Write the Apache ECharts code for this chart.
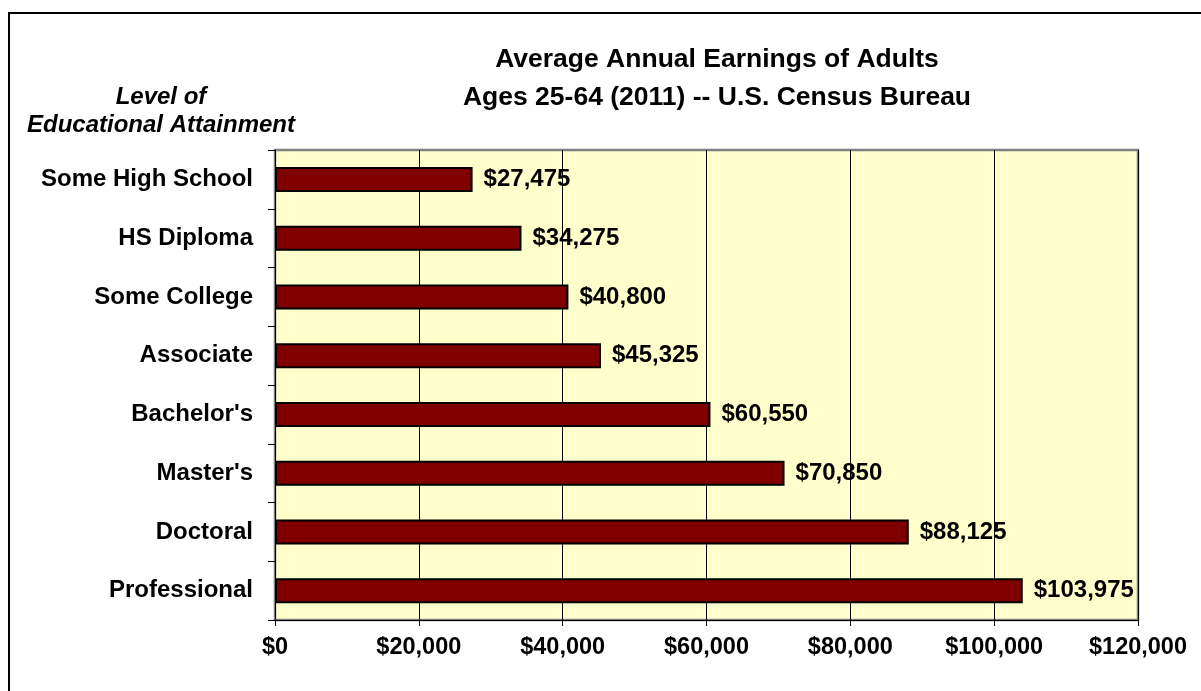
<!DOCTYPE html>
<html>
<head>
<meta charset="utf-8">
<script src="https://cdn.jsdelivr.net/npm/echarts@6/dist/echarts.min.js"></script>
<style>
html,body{margin:0;padding:0;background:#fff;}
#chart{width:1201px;height:691px;}
</style>
</head>
<body>
<div id="chart"></div>
<script>
const categories = ["Some High School","HS Diploma","Some College","Associate","Bachelor's","Master's","Doctoral","Professional"];
const earnings = [27475,34275,40800,45325,60550,70850,88125,103975];
const xTicks = [0,20000,40000,60000,80000,100000,120000];

const fmt = v => '$' + Number(v).toLocaleString('en-US');
const FONT = '"Liberation Sans", Arial, sans-serif';

const chart = echarts.init(document.getElementById('chart'));
chart.setOption({
  animation: false,
  backgroundColor: '#ffffff',
  title: {
    text: 'Average Annual Earnings of Adults\nAges 25-64 (2011) -- U.S. Census Bureau',
    left: 712, top: 36, textAlign: 'center',
    textStyle: {fontFamily: FONT, fontWeight: 'bold', fontSize: 26.5, color: '#000', lineHeight: 38}
  },
  graphic: [
    {type: 'rect', shape: {x: 9, y: 13, width: 1300, height: 800}, style: {fill: 'none', stroke: '#000', lineWidth: 2}, silent: true},
    {type: 'text', x: 161, y: 83, silent: true,
     style: {text: 'Level of\nEducational Attainment', font: 'italic bold 24px "Liberation Sans", Arial, sans-serif', fill: '#000', align: 'center', verticalAlign: 'top', lineHeight: 28}}
  ],
  grid: {left: 275, right: 63, top: 150, bottom: 71, show: true, backgroundColor: '#FFFFCC', borderColor: '#808080', borderWidth: 2.5},
  xAxis: {
    type: 'value', min: 0, max: 120000, interval: 20000,
    axisLine: {show: true, lineStyle: {color: '#000', width: 1}},
    axisTick: {show: true, length: 6, lineStyle: {color: '#000'}},
    splitLine: {show: true, lineStyle: {color: '#000', width: 1}},
    axisLabel: {formatter: v => xTicks.includes(v) ? fmt(v) : '', fontFamily: FONT, fontWeight: 'bold', fontSize: 23.5, color: '#000', margin: 16}
  },
  yAxis: {
    type: 'category', data: categories, inverse: true,
    axisLine: {show: true, lineStyle: {color: '#000', width: 1}},
    axisTick: {show: true, length: 7, alignWithLabel: false, lineStyle: {color: '#000'}},
    axisLabel: {fontFamily: FONT, fontWeight: 'bold', fontSize: 24, color: '#000', margin: 22}
  },
  series: [{
    type: 'bar', data: earnings, barWidth: 25,
    itemStyle: {color: '#800000', borderColor: '#000', borderWidth: 2},
    label: {show: true, position: 'right', distance: 11, formatter: p => fmt(p.value), fontFamily: FONT, fontWeight: 'bold', fontSize: 24, color: '#000'}
  }]
});
</script>
</body>
</html>
